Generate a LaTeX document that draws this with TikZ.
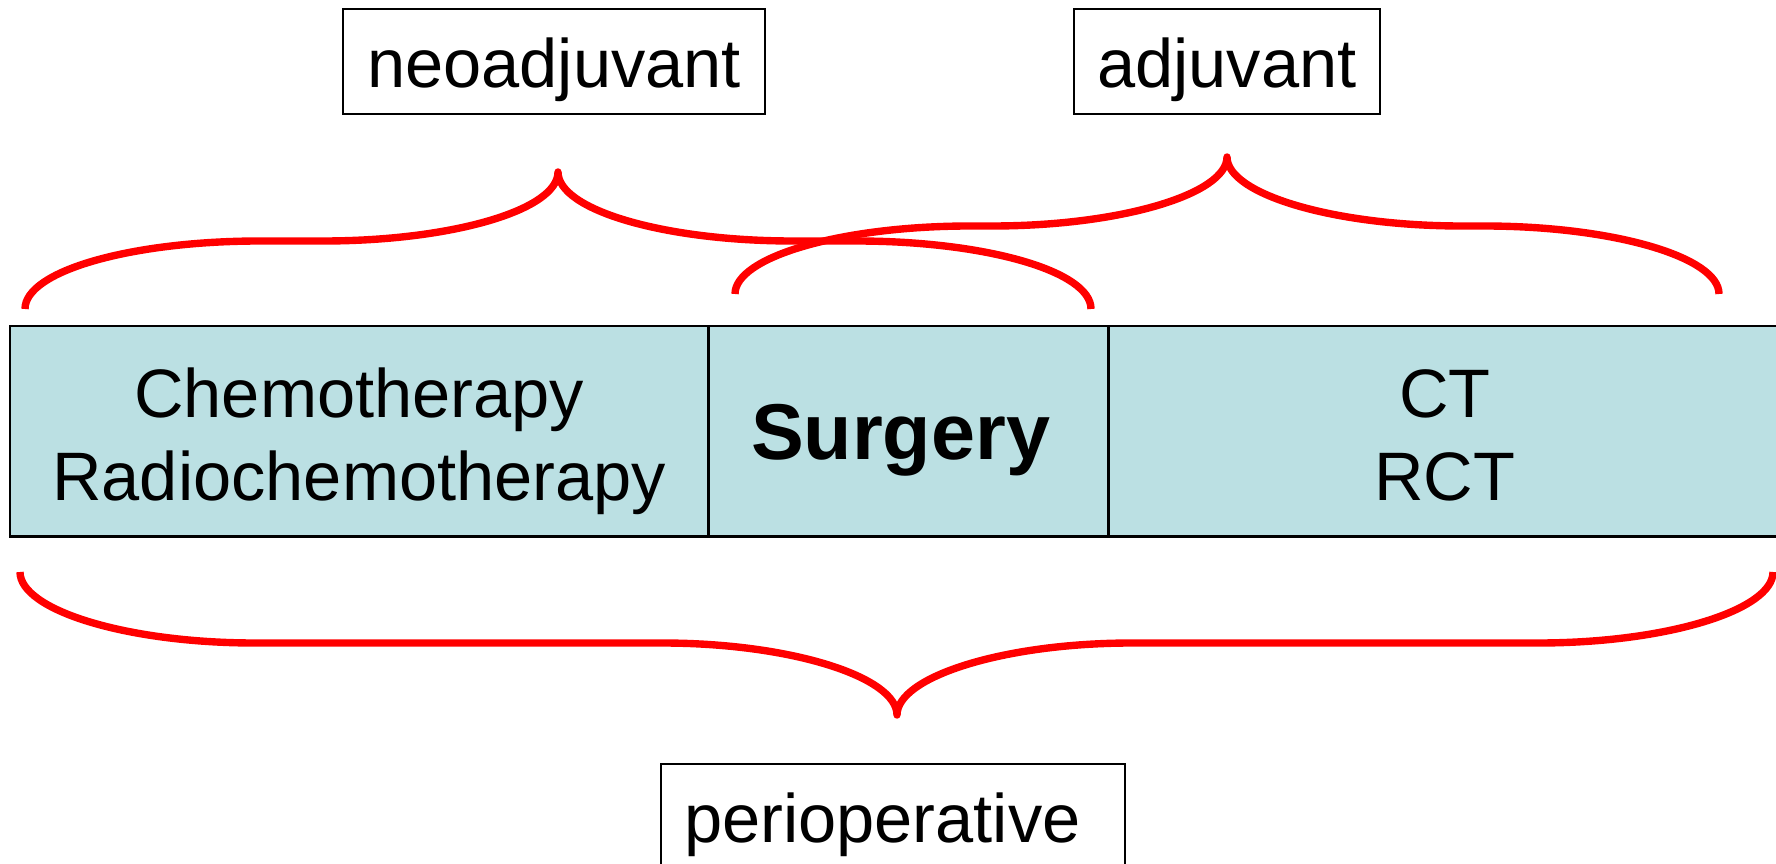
\documentclass[tikz,border=0pt]{standalone}
\usepackage{fontspec}
\setmainfont{Liberation Sans}
\usepackage{xcolor}
\usepackage{tikz}
\usetikzlibrary{positioning}

\definecolor{cellblue}{RGB}{187,224,227}

\begin{document}
\begin{tikzpicture}[
        x=0.01cm, y=-0.01cm,
        cell/.style={rectangle, draw=black, line width=0.8pt, fill=cellblue, align=center, minimum height=2.1cm, inner sep=0pt, outer sep=0pt, font=\fontsize{19.5pt}{23.6pt}\selectfont},
        phase/.style={rectangle, draw=black, line width=0.6pt, fill=white, minimum height=1.05cm, inner ysep=0pt, text height=0.78cm, text depth=0.27cm, font=\fontsize{19.5pt}{23.6pt}\selectfont},
        brace/.style={draw=red, line width=2.1pt, line join=round}
    ]
        \useasboundingbox (0,0) rectangle (1776,864);
        \clip (0,0) rectangle (1776,864);

        % treatment row
        \node[cell, minimum width=6.98cm, text height=1.74cm, text depth=0.36cm, anchor=north west] (chemo) at (10,326) {Chemotherapy\\Radiochemotherapy};
        \node[cell, minimum width=4cm, right=0pt of chemo, text height=1.33cm, text depth=0.77cm, font=\fontsize{22.5pt}{27pt}\selectfont\bfseries] (surgery) {Surgery\hspace*{0.16cm}};
        \node[cell, minimum width=6.72cm, right=0pt of surgery, text height=1.74cm, text depth=0.36cm] (ct) {CT\\RCT};

        % phase labels
        \node[phase, minimum width=4.22cm] (neoadj) at (554,61.5) {neoadjuvant};
        \node[phase, minimum width=3.06cm] (adj) at (1227,61.5) {adjuvant};
        \node[phase, text width=4.18cm, inner xsep=0.23cm, align=left, anchor=north west] (periop) at (660,763) {perioperative};

        % braces
        \draw[brace] (25,309) .. controls (25,271) and (131,241) .. (260,241) -- (323,241)
            .. controls (452,241) and (558,210) .. (558,172)
            .. controls (558,210) and (664,241) .. (793,241) -- (856,241)
            .. controls (985,241) and (1091,271) .. (1091,309);
        \draw[brace] (735,294) .. controls (735,257) and (841,226) .. (970,226) -- (992,226)
            .. controls (1121,226) and (1227,194) .. (1227,157)
            .. controls (1227,194) and (1333,226) .. (1462,226) -- (1484,226)
            .. controls (1613,226) and (1719,257) .. (1719,294);
        \draw[brace] (20,572) .. controls (20,610) and (126,643) .. (255,643) -- (662,643)
            .. controls (791,643) and (897,677) .. (897,715)
            .. controls (897,677) and (1003,643) .. (1132,643) -- (1538,643)
            .. controls (1667,643) and (1773,610) .. (1773,572);
\end{tikzpicture}
\end{document}
